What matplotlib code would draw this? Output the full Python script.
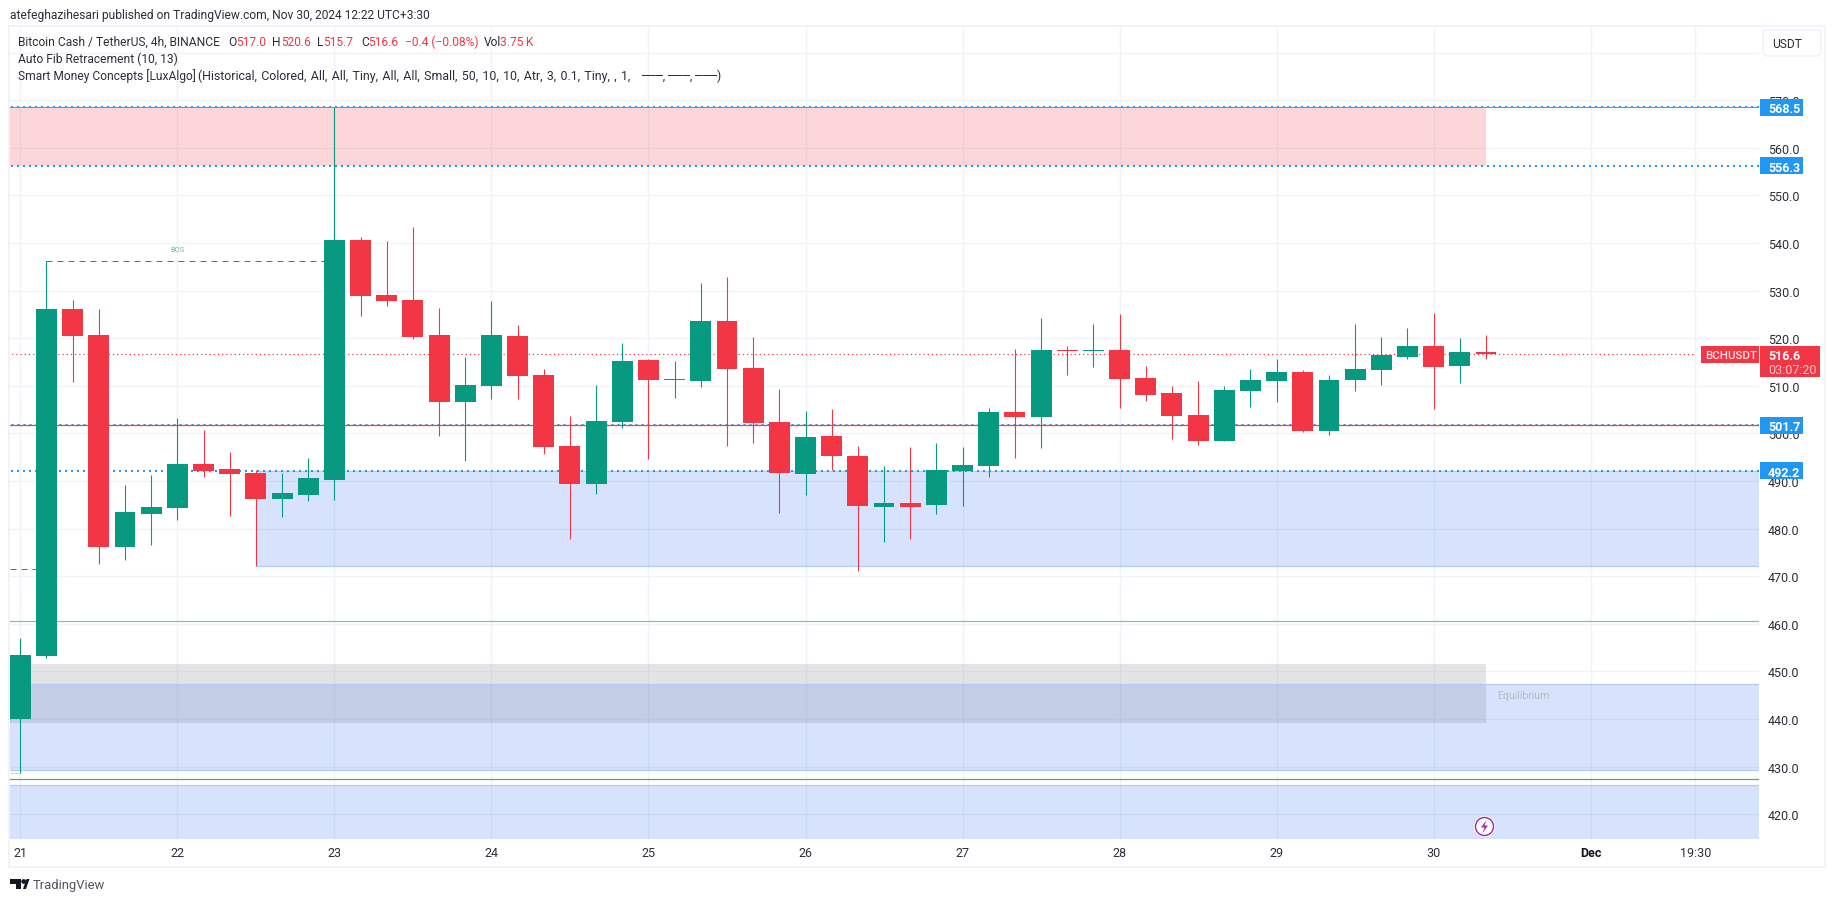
import matplotlib
matplotlib.use("Agg")
import matplotlib.pyplot as plt
from matplotlib.patches import Rectangle, Circle, Polygon, FancyBboxPatch
from matplotlib.transforms import blended_transform_factory

# 4h candles
opens = [440.0, 453.3, 526.2, 520.7, 476.2, 483.1, 484.4, 493.6, 492.6, 491.7,
         486.3, 487.1, 490.3, 540.7, 529.1, 528.1, 520.7, 506.7, 510.0, 520.5,
         512.3, 497.4, 489.4, 502.5, 515.5, 511.3, 511.1, 523.7, 513.8, 502.5,
         491.5, 499.5, 495.3, 484.6, 485.4, 485.0, 492.2, 493.2, 504.5, 503.5,
         517.5, 517.3, 517.5, 511.7, 508.5, 503.9, 498.4, 508.9, 511.0, 512.9,
         500.5, 511.2, 513.3, 516.1, 518.4, 514.2, 517.2]
highs = [457.0, 536.2, 528.1, 526.2, 489.2, 491.3, 503.3, 500.8, 496.2, 492.4,
         491.7, 494.9, 568.5, 541.3, 540.5, 543.4, 526.4, 516.1, 527.9, 522.8,
         513.6, 503.7, 510.2, 519.1, 515.7, 515.3, 531.7, 532.9, 520.3, 509.4,
         504.8, 505.2, 497.4, 493.2, 497.2, 498.0, 497.2, 505.4, 517.8, 524.3,
         518.4, 523.0, 525.1, 514.2, 510.0, 511.0, 510.0, 513.6, 515.7, 513.3,
         512.3, 523.0, 520.3, 522.2, 525.3, 520.1, 520.6]
lows = [428.7, 452.8, 510.9, 472.6, 473.5, 476.6, 481.9, 490.9, 482.7, 472.2,
        482.5, 485.9, 486.1, 524.7, 526.8, 519.9, 499.5, 494.3, 507.3, 507.3,
        495.7, 477.9, 487.3, 501.2, 494.7, 507.5, 509.8, 497.4, 498.0, 483.3,
        487.1, 492.4, 471.2, 477.2, 477.9, 483.1, 484.8, 490.9, 494.8, 497.0,
        512.3, 514.0, 505.4, 506.8, 498.8, 497.6, 498.4, 505.6, 506.6, 500.3,
        499.7, 508.9, 510.2, 515.7, 505.2, 510.6, 515.7]
closes = [453.5, 526.2, 520.5, 476.2, 483.5, 484.6, 493.6, 492.2, 491.5, 486.3,
          487.5, 490.7, 540.7, 528.9, 527.9, 520.3, 506.7, 510.2, 520.7, 512.1,
          497.2, 489.4, 502.7, 515.3, 511.3, 511.5, 523.7, 513.6, 502.2, 491.7,
          499.3, 495.3, 484.8, 485.4, 484.6, 492.4, 493.4, 504.6, 503.5, 517.5,
          517.3, 517.5, 511.4, 508.1, 503.7, 498.4, 509.1, 511.2, 512.9, 500.5,
          511.2, 513.6, 516.5, 518.4, 514.0, 517.1, 516.6]

price_ticks = [420, 430, 440, 450, 460, 470, 480, 490, 500, 510, 520, 530, 540, 550, 560, 570]
grid_prices = price_ticks + [580]
time_ticks = [0, 6, 12, 18, 24, 30, 36, 42, 48, 54, 60, 64]
time_labels = ["21", "22", "23", "24", "25", "26", "27", "28", "29", "30", "Dec", "19:30"]

last_price = 516.6
supply_zone = (556.3, 568.5)
equilibrium_zone = (439.2, 451.6)
demand_zones = [(429.4, 447.3), (410.0, 426.1), (472.2, 492.2)]
blue_levels = [568.5, 556.3, 492.2]
red_level = 501.7
green_levels = [427.4, 460.5]
bos_level = 536.2

GREEN = "#089981"
RED = "#f23645"
BLUE = "#2196f3"
ZONE_BLUE = "#2d6ef5"
TXT = "#2a2e39"
FRAME = "#f0f3fa"
PX = 0.72  # one pixel in points at dpi 100

plt.rcParams["font.family"] = ["Roboto", "DejaVu Sans"]
plt.rcParams["font.size"] = 12 * PX

fig = plt.figure(figsize=(18.35, 9.03), dpi=100, facecolor="white")
W, H = 1835, 903
left, right, top, bottom = 10, 1759, 28, 840
ax = fig.add_axes([left / W, 1 - bottom / H, (right - left) / W, (bottom - top) / H])
ax.set_xlim(-0.394, 66.43)
ax.set_ylim(414.8, 585.4)
ax.set_axisbelow(True)
for s in ax.spines.values():
    s.set_visible(False)

# grid and axes
ax.hlines(grid_prices, -1, 70, color=FRAME, lw=1.4 * PX, zorder=0)
ax.vlines(time_ticks, 400, 600, color=FRAME, lw=1.4 * PX, zorder=0)
ax.yaxis.tick_right()
ax.set_yticks(price_ticks)
ax.set_yticklabels(["%.1f" % p for p in price_ticks])
ax.tick_params(axis="y", length=0, pad=9 * PX, labelcolor=TXT, labelsize=12.5 * PX)
ax.set_xticks(time_ticks)
ax.set_xticklabels(time_labels)
ax.tick_params(axis="x", length=0, pad=7 * PX, labelcolor=TXT, labelsize=12.5 * PX)
ax.get_xticklabels()[10].set_fontweight("bold")
ax.get_xticklabels()[10].set_color("#131722")

# zones
n = len(opens)
last = n - 1
ax.axhspan(supply_zone[0], supply_zone[1], xmin=0, xmax=(last + 0.394) / 66.824,
           color=RED, alpha=0.2, lw=0, zorder=1)
ax.axhspan(equilibrium_zone[0], equilibrium_zone[1], xmin=0, xmax=(last + 0.394) / 66.824,
           color="#787b86", alpha=0.2, lw=0, zorder=1.2)
for i, (lo, hi) in enumerate(demand_zones):
    start = 9 if i == 2 else -0.394
    ax.add_patch(Rectangle((start, lo), 70, hi - lo, facecolor=ZONE_BLUE, alpha=0.19, lw=0, zorder=1))
    ax.hlines([lo, hi], start, 70, color="#b0cbf7", lw=1.2 * PX, zorder=1.3)

# levels
for lvl in blue_levels:
    ax.hlines(lvl, -1, 70, color=BLUE, lw=2 * PX, linestyles=[(0, (1, 2))], zorder=2)
ax.hlines(568.5, -1, 70, color="#6f8fc4", lw=1 * PX, zorder=2)
ax.hlines(red_level + 0.2, -1, 70, color=BLUE, lw=1 * PX, linestyles=[(0, (2, 4))], zorder=2)
ax.hlines(red_level, -1, 70, color="#f44336", lw=1.3 * PX, zorder=2.1)
ax.hlines(green_levels[0], -1, 70, color="#4caf50", lw=1.2 * PX, zorder=2)
ax.hlines(green_levels[1], -1, 70, color="#82c985", lw=1.2 * PX, zorder=2)
ax.hlines(last_price, -1, 64.0, color=RED, lw=1.2 * PX, linestyles=[(0, (1, 2.5))], zorder=2)

# structure lines
ax.hlines(bos_level, 1, 12, color=GREEN, lw=1 * PX, linestyles=[(0, (6, 5))], zorder=2.2)
ax.hlines(471.5, -1, 1, color=GREEN, lw=1 * PX, linestyles=[(0, (6, 5))], zorder=2.2)
ax.hlines(428.6, -1, 0, color="#7fcabb", lw=1 * PX, linestyles=[(0, (2, 2))], zorder=2.2)
ax.text(6, 538.6, "BOS", color="#6cbcae", fontsize=7.5 * PX, ha="center", va="center", zorder=2.2)
ax.text(56.42, 446.0, "Equilibrium", color="#b9bcc4", fontsize=10.5 * PX, ha="left", va="top", zorder=2.2)

# candles
for i in range(n):
    col = GREEN if closes[i] > opens[i] else RED
    ax.vlines(i, lows[i], highs[i], color=col, lw=1.1 * PX, zorder=5)
    lo, hi = min(opens[i], closes[i]), max(opens[i], closes[i])
    ax.bar(i, max(hi - lo, 0.2), bottom=lo, width=0.8, color=col, lw=0, zorder=5.1)

# page furniture, in image pixels
ov = fig.add_axes([0, 0, 1, 1], facecolor="none", zorder=10)
ov.set_xlim(0, W)
ov.set_ylim(H, 0)
ov.axis("off")
ov.add_patch(Rectangle((9, 27), 1816, 841, fill=False, ec=FRAME, lw=2 * PX))
ov.add_patch(FancyBboxPatch((1765, 33), 54, 22, boxstyle="round,pad=2,rounding_size=4",
                            fc="white", ec=FRAME, lw=1.5 * PX))
ov.text(1772, 44.5, "USDT", color=TXT, fontsize=12 * PX, va="center")


def label(x, y, s, color=TXT, size=12, **kw):
    ov.text(x, y, s, color=color, fontsize=size * PX, va="center", ha="left", **kw)


label(10, 15, "atefeghazihesari published on TradingView.com, Nov 30, 2024 12:22 UTC+3:30")
label(18, 42, "Bitcoin Cash / TetherUS, 4h, BINANCE")
for x, s, col in [(228, "O", TXT), (236, "517.0", RED), (272, "H", TXT), (281, "520.6", RED),
                  (317, "L", TXT), (323, "515.7", RED), (361, "C", TXT), (368, "516.6", RED),
                  (405, "\u22120.4 (\u22120.08%)", RED), (484, "Vol", TXT), (500, "3.75\u2009K", RED)]:
    label(x, 42, s, color=col)
label(18, 59, "Auto Fib Retracement (10, 13)")
label(18, 76, "Smart Money Concepts [LuxAlgo]")
label(198, 76, "(Historical, Colored, All, All, Tiny, All, All, Small, 50, 10, 10, Atr, 3, 0.1, Tiny, , 1,"
      .replace(", ", ", \u200a"), size=12.4)
label(641, 76, "\u2500\u2500\u2500, \u2500\u2500\u2500, \u2500\u2500\u2500)")

# price tags
tr = blended_transform_factory(ov.transData, ax.transData)
for lvl in blue_levels + [red_level]:
    ax.add_patch(Rectangle((1760, lvl - 1.79), 43, 3.58, transform=tr, fc=BLUE, lw=0,
                           clip_on=False, zorder=20))
    ax.text(1768, lvl, "%.1f" % lvl, transform=tr, color="white", fontsize=12.5 * PX,
            fontweight="bold", va="center_baseline", clip_on=False, zorder=21)
ax.add_patch(Rectangle((1760, last_price - 4.7), 60, 6.49, transform=tr, fc=RED, lw=0,
                       clip_on=False, zorder=20))
ax.add_patch(Rectangle((1701, last_price - 1.79), 58, 3.58, transform=tr, fc=RED, lw=0,
                       clip_on=False, zorder=20))
ax.text(1768, last_price, "%.1f" % last_price, transform=tr, color="white", fontsize=12.5 * PX,
        fontweight="bold", va="center_baseline", clip_on=False, zorder=21)
ax.text(1768, last_price - 2.85, "03:07:20", transform=tr, color="#fcc9ce", fontsize=12.5 * PX,
        va="center_baseline", clip_on=False, zorder=21)
ax.text(1705, last_price, "BCHUSDT", transform=tr, color="#fde3e5", fontsize=11.5 * PX,
        fontweight="medium", va="center_baseline", clip_on=False, zorder=21)

# lightning badge
ov.add_patch(Circle((1484.5, 827.5), 10, fc="white", ec="white", lw=1 * PX))
ov.add_patch(Circle((1484.5, 827.5), 9, fc="white", ec="#9c27b0", lw=1.4 * PX))
ov.add_patch(Polygon([[1486.5, 821], [1481, 828.5], [1484.5, 828.5], [1482.5, 834],
                      [1488, 826.5], [1484.5, 826.5]], fc="#9c27b0", lw=0))

# TradingView logo
ov.add_patch(Polygon([[10, 880], [21, 880], [21, 890], [15.5, 890], [15.5, 885], [10, 885]],
                     fc="#131722", lw=0))
ov.add_patch(Circle((23.7, 882.5), 2.4, fc="#131722", lw=0))
ov.add_patch(Polygon([[23, 890], [26.5, 880], [29.5, 880], [26, 890]], fc="#131722", lw=0))
label(33, 885.5, "TradingView", color="#50535e", size=13)

fig.savefig("out.png", dpi=100)
